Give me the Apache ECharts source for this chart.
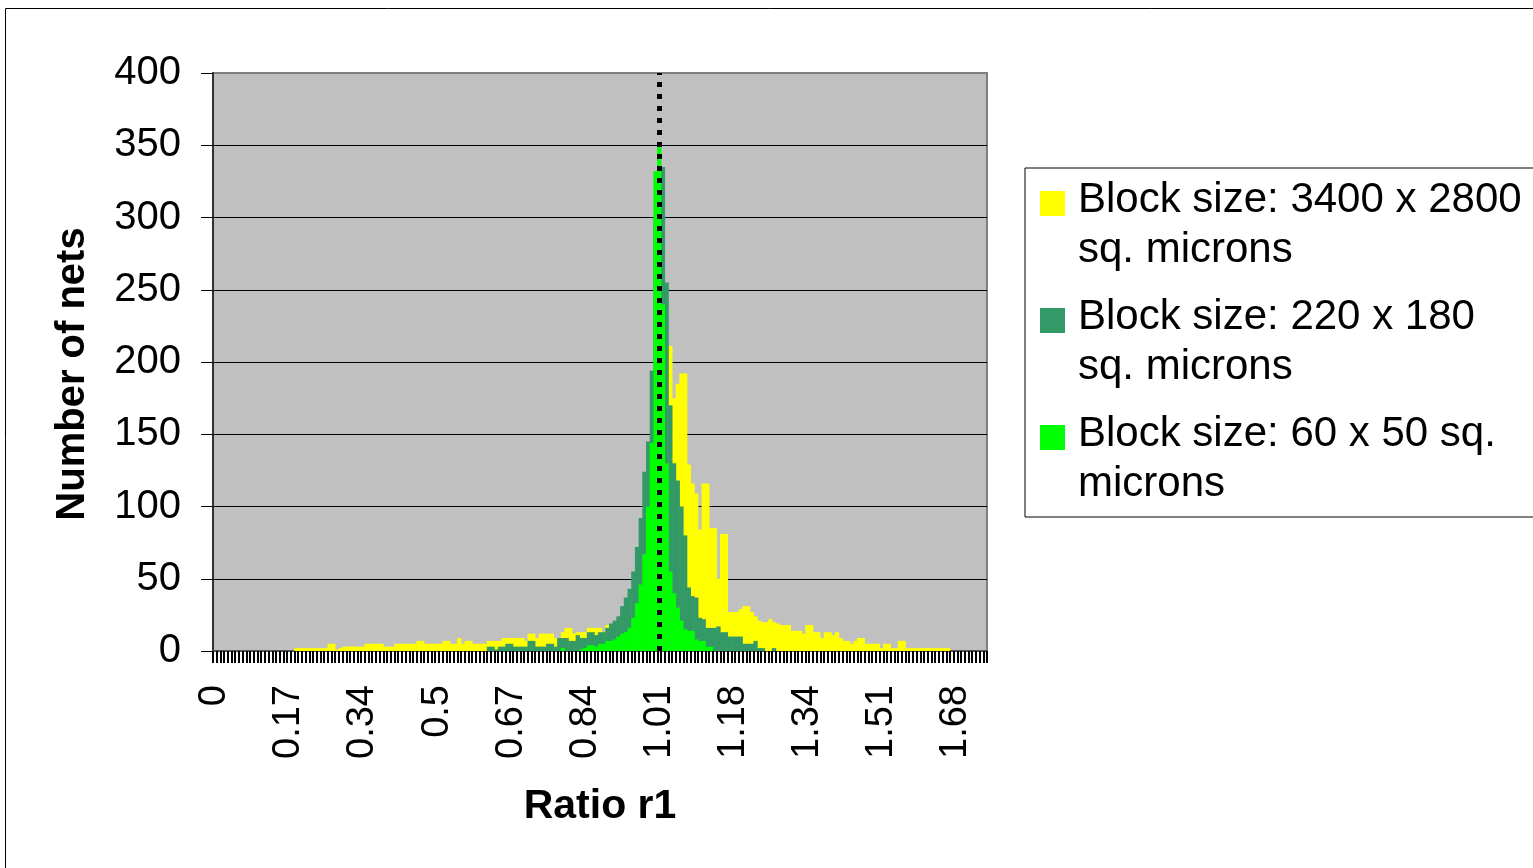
<!DOCTYPE html>
<html>
<head>
    <meta charset="utf-8">
    <script src="https://cdn.jsdelivr.net/npm/echarts@6/dist/echarts.min.js"></script>
    <style>
        html, body { margin: 0; padding: 0; background: #fff; }
        #main { width: 1533px; height: 868px; }
    </style>
</head>
<body>
<div id="main"></div>
<script type="text/javascript">
    // histogram bins of ratio r1 (bin width 0.0084, 209 bins)
    var binWidth = 0.0084;
    var binCount = 209;
    var categories = [];
    for (var i = 0; i < binCount; i++) {
        categories.push((i * binWidth).toFixed(4));
    }
    // labels shown every 20th bin
    var tickLabels = ['0', '0.17', '0.34', '0.5', '0.67', '0.84', '1.01', '1.18', '1.34', '1.51', '1.68'];
    var labelStep = 20;
    var refBin = 120;   // ratio 1.01, dotted reference line

    var seriesNames = [
        'Block size: 3400 x 2800 sq. microns',
        'Block size: 220 x 180 sq. microns',
        'Block size: 60 x 50 sq. microns'
    ];
    var legendText = [
        'Block size: 3400 x 2800\nsq. microns',
        'Block size: 220 x 180\nsq. microns',
        'Block size: 60 x 50 sq.\nmicrons'
    ];

    var bigBlock = [
        0, 0, 0, 0, 0, 0, 0, 0, 0, 0,
        0, 0, 0, 0, 0, 0, 0, 0, 0, 0,
        0, 0, 2, 2, 2, 2, 2, 2, 2, 2,
        2, 5, 5, 1, 2, 3, 3, 3, 3, 3,
        3, 5, 5, 5, 5, 5, 3, 3, 3, 5,
        5, 5, 5, 5, 5, 7, 7, 5, 5, 5,
        5, 5, 7, 7, 5, 5, 9, 5, 7, 7,
        5, 5, 5, 5, 7, 7, 7, 7, 9, 9,
        9, 9, 9, 9, 7, 12, 12, 9, 12, 12,
        12, 12, 9, 9, 13, 16, 16, 12, 13, 13,
        13, 16, 16, 16, 16, 13, 18, 17, 18, 20,
        22, 25, 30, 35, 45, 55, 65, 80, 95, 110,
        130, 150, 180, 211, 175, 185, 192, 192, 129, 116,
        109, 84, 116, 116, 85, 85, 50, 81, 81, 27,
        27, 27, 29, 31, 31, 27, 24, 21, 20, 20,
        22, 20, 19, 18, 18, 18, 14, 14, 14, 12,
        18, 18, 13, 13, 9, 13, 13, 11, 13, 9,
        7, 7, 5, 7, 9, 9, 5, 5, 5, 5,
        2, 5, 5, 2, 2, 7, 7, 2, 2, 2,
        2, 2, 2, 2, 2, 2, 2, 2, 2, 0,
        0, 0, 0, 0, 0, 0, 0, 0, 0
    ];
    var midBlock = [
        0, 0, 0, 0, 0, 0, 0, 0, 0, 0,
        0, 0, 0, 0, 0, 0, 0, 0, 0, 0,
        0, 0, 0, 0, 0, 0, 0, 0, 0, 0,
        0, 0, 0, 0, 0, 0, 0, 0, 0, 0,
        0, 0, 0, 0, 0, 0, 0, 0, 0, 0,
        0, 0, 0, 0, 0, 0, 0, 0, 0, 0,
        0, 0, 0, 0, 0, 0, 0, 0, 0, 0,
        0, 0, 0, 0, 3, 3, 1, 3, 3, 5,
        5, 3, 3, 3, 3, 7, 7, 3, 3, 3,
        5, 5, 3, 9, 9, 9, 7, 7, 11, 9,
        9, 13, 13, 11, 13, 13, 16, 19, 21, 24,
        31, 37, 43, 55, 72, 92, 124, 145, 194, 300,
        330, 335, 255, 170, 130, 118, 100, 80, 44, 38,
        37, 23, 22, 16, 16, 16, 17, 13, 13, 10,
        10, 10, 10, 5, 5, 5, 7, 2, 2, 0,
        0, 2, 0, 0, 0, 0, 0, 0, 0, 0,
        0, 0, 0, 0, 0, 0, 0, 0, 0, 0,
        0, 0, 0, 0, 0, 0, 0, 0, 0, 0,
        0, 0, 0, 0, 0, 0, 0, 0, 0, 0,
        0, 0, 0, 0, 0, 0, 0, 0, 0, 0,
        0, 0, 0, 0, 0, 0, 0, 0, 0
    ];
    var smallBlock = [
        0, 0, 0, 0, 0, 0, 0, 0, 0, 0,
        0, 0, 0, 0, 0, 0, 0, 0, 0, 0,
        0, 0, 0, 0, 0, 0, 0, 0, 0, 0,
        0, 0, 0, 0, 0, 0, 0, 0, 0, 0,
        0, 0, 0, 0, 0, 0, 0, 0, 0, 0,
        0, 0, 0, 0, 0, 0, 0, 0, 0, 0,
        0, 0, 0, 0, 0, 0, 0, 0, 0, 0,
        0, 0, 0, 0, 0, 0, 0, 0, 0, 0,
        0, 0, 0, 0, 0, 0, 0, 0, 0, 0,
        0, 0, 0, 0, 2, 0, 0, 0, 0, 1,
        2, 4, 4, 3, 5, 5, 7, 7, 8, 10,
        12, 13, 16, 23, 33, 46, 67, 100, 144, 332,
        350, 240, 130, 55, 40, 30, 21, 15, 14, 14,
        8, 7, 7, 3, 3, 0, 0, 0, 0, 0,
        0, 0, 0, 0, 0, 0, 0, 0, 0, 0,
        0, 0, 0, 0, 0, 0, 0, 0, 0, 0,
        0, 0, 0, 0, 0, 0, 0, 0, 0, 0,
        0, 0, 0, 0, 0, 0, 0, 0, 0, 0,
        0, 0, 0, 0, 0, 0, 0, 0, 0, 0,
        0, 0, 0, 0, 0, 0, 0, 0, 0, 0,
        0, 0, 0, 0, 0, 0, 0, 0, 0
    ];
    var colors = ['#FFFF00', '#339966', '#00FF00'];

    var fontName = 'Liberation Sans, Arial, sans-serif';
    // square marker sitting on the first line of a two-line legend entry
    var legendIcon = 'path://M0,16L25,16L25,41L0,41Z M0,0L0,0 M33,100L33,100';

    // bars a little wider than the bin so neighbours touch without seams
    function histSeries(idx, data) {
        return {
            name: seriesNames[idx], type: 'bar', data: data,
            barGap: '-100%', barWidth: '115%',
            itemStyle: {color: colors[idx]}
        };
    }

    var myChart = echarts.init(document.getElementById('main'), null, {renderer: 'canvas'});
    var front = histSeries(2, smallBlock);
    front.markLine = {
        silent: true, symbol: ['none', 'none'],
        label: {show: false},
        lineStyle: {color: '#000', width: 5, type: [5, 7]},
        data: [{xAxis: categories[refBin]}]
    };

    var option = {
        animation: false,
        backgroundColor: '#fff',
        textStyle: {fontFamily: fontName, color: '#000'},
        graphic: [{
            type: 'rect', z: -10, silent: true,
            shape: {x: 5.5, y: 8.5, width: 1600, height: 1000},
            style: {fill: 'none', stroke: '#000', lineWidth: 1}
        }],
        grid: {
            left: 213, top: 73, right: 546, bottom: 217,
            show: true, backgroundColor: '#C0C0C0',
            borderColor: '#808080', borderWidth: 2
        },
        legend: {
            orient: 'vertical', left: 1025, top: 168,
            padding: [7, 20, 8, 15], itemGap: 17,
            itemWidth: 33, itemHeight: 100,
            backgroundColor: '#fff', borderColor: '#000', borderWidth: 1,
            selectedMode: false,
            icon: legendIcon,
            data: seriesNames,
            formatter: function (name) { return legendText[seriesNames.indexOf(name)]; },
            textStyle: {fontFamily: fontName, fontSize: 42, lineHeight: 50, color: '#000'}
        },
        xAxis: {
            type: 'category', data: categories, boundaryGap: true,
            name: 'Ratio r1', nameLocation: 'middle', nameGap: 135,
            nameTextStyle: {fontFamily: fontName, fontSize: 41, fontWeight: 'bold', color: '#000'},
            axisLine: {lineStyle: {color: '#555', width: 2}},
            axisTick: {show: true, interval: 0, length: 12, lineStyle: {color: '#000', width: 2}},
            axisLabel: {
                interval: labelStep - 1, rotate: 90, margin: 34,
                fontFamily: fontName, fontSize: 38, color: '#000',
                formatter: function (v, idx) {
                    return idx % labelStep === 0 ? (tickLabels[idx / labelStep] || '') : '';
                }
            },
            splitLine: {show: false}
        },
        yAxis: {
            type: 'value', min: 0, max: 400, interval: 50,
            name: 'Number of nets', nameLocation: 'middle', nameGap: 120,
            nameTextStyle: {
                fontFamily: fontName, fontSize: 40, fontWeight: 'bold', color: '#000',
                padding: [0, 24, 0, 0]
            },
            axisLine: {show: true, lineStyle: {color: '#333', width: 2}},
            axisTick: {show: true, length: 12, lineStyle: {color: '#000', width: 1}},
            axisLabel: {margin: 32, fontFamily: fontName, fontSize: 40, color: '#000'},
            splitLine: {
                show: true,
                lineStyle: {color: ['#000', '#000', '#000', '#000', '#000', '#000', '#000', '#000', '#808080'], width: 1}
            }
        },
        series: [
            histSeries(0, bigBlock),
            histSeries(1, midBlock),
            front
        ]
    };
    myChart.setOption(option);
</script>
</body>
</html>
